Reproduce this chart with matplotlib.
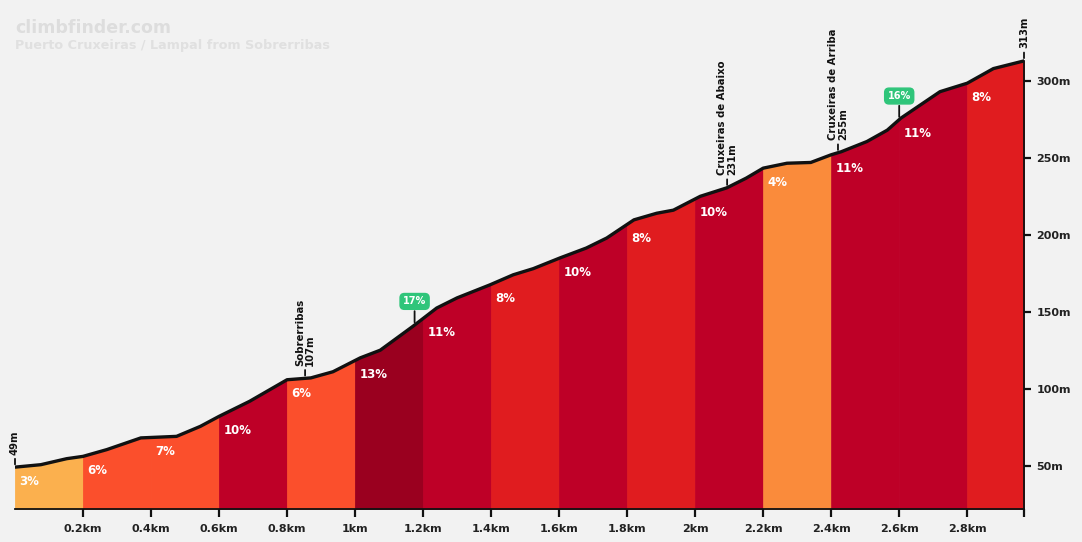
import numpy as np
import matplotlib
matplotlib.use("Agg")
import matplotlib.pyplot as plt

plt.rcParams['font.family'] = ['DejaVu Sans']

# elevation profile (km, m)
dist = [0.0, 0.076, 0.152, 0.2, 0.27, 0.37, 0.475, 0.545, 0.6, 0.69, 0.8, 0.87,
        0.935, 1.015, 1.074, 1.17, 1.24, 1.30, 1.397, 1.465, 1.524, 1.603, 1.68,
        1.74, 1.82, 1.887, 1.936, 2.015, 2.093, 2.15, 2.2, 2.27, 2.34, 2.40, 2.43,
        2.505, 2.565, 2.605, 2.72, 2.8, 2.877, 2.967]
elev = [49, 50.6, 54.5, 56, 60.4, 68, 69, 75.5, 82, 91.8, 105.8, 107,
        111, 120, 125, 140.5, 152.4, 159, 167.5, 174, 178, 185, 191.4,
        197.9, 209.7, 214, 216, 225, 230.5, 236.8, 243.3, 246.5, 247, 252, 254,
        260.6, 268, 275.8, 293, 298.5, 308, 313]

# gradient per 200 m segment
seg_start = [0.0, 0.2, 0.4, 0.6, 0.8, 1.0, 1.2, 1.4, 1.6, 1.8, 2.0, 2.2, 2.4, 2.6, 2.8]
seg_grade = [3, 6, 7, 10, 6, 13, 11, 8, 10, 8, 10, 4, 11, 11, 8]

# places along the climb
place_names = ['Sobrerribas', 'Cruxeiras de Abaixo', 'Cruxeiras de Arriba']
place_km = [0.853, 2.094, 2.42]
place_elev = [107, 231, 255]

# steepest pitches
peak_km = [1.175, 2.6]
peak_grade = [17, 16]

xticks = [0.2, 0.4, 0.6, 0.8, 1.0, 1.2, 1.4, 1.6, 1.8, 2.0, 2.2, 2.4, 2.6, 2.8]
xlabels = ['0.2km', '0.4km', '0.6km', '0.8km', '1km', '1.2km', '1.4km', '1.6km',
           '1.8km', '2km', '2.2km', '2.4km', '2.6km', '2.8km']
yticks = [50, 100, 150, 200, 250, 300]
ylabels = ['50m', '100m', '150m', '200m', '250m', '300m']


def grade_color(g):
    if g <= 3:
        return '#FBB04E'
    if g <= 5:
        return '#FA8B3B'
    if g <= 7:
        return '#FB4F2C'
    if g <= 8:
        return '#E01C1F'
    if g <= 11:
        return '#BE0027'
    return '#9A001F'


dist = np.array(dist)
elev = np.array(elev)
end_km = dist[-1]
ymin = 21.8
W = 'bold'

bg = '#F2F2F2'
fig = plt.figure(figsize=(10.82, 5.42), dpi=100, facecolor=bg)
ax = fig.add_axes([15 / 1082, 33 / 542, 1009 / 1082, 469 / 542])
ax.set_facecolor(bg)
ax.set_xlim(0, end_km)
ax.set_ylim(ymin, ymin + 469 / 1.5388)

ends = seg_start[1:] + [end_km]
for a, b, g in zip(seg_start, ends, seg_grade):
    inner = dist[(dist > a) & (dist < b)]
    xs = np.concatenate([[a], inner, [b]])
    ys = np.interp(xs, dist, elev)
    c = grade_color(g)
    ax.fill_between(xs, ymin, ys, color=c, ec=c, lw=0.6, zorder=1)
    ax.annotate(f'{g}%', (a, np.interp(a, dist, elev)), xytext=(3, -10),
                textcoords='offset points', ha='left', va='center',
                color='white', fontsize=8.5, fontweight=W, zorder=3)

ax.plot(dist, elev, color='#111111', lw=2.4, solid_capstyle='round',
        solid_joinstyle='round', zorder=4)

# start / end elevations
for km, m in [(0.0, elev[0]), (end_km, elev[-1])]:
    ax.annotate('', (km, m), xytext=(0, 8), textcoords='offset points',
                arrowprops=dict(arrowstyle='-', color='#111111', lw=1.3), zorder=5)
    ax.annotate(f'{int(m)}m', (km, m), xytext=(0, 9), textcoords='offset points',
                rotation=90, ha='center', va='bottom', fontsize=7.2,
                fontweight=W, color='#111111', zorder=5)

# named places
for name, km, m in zip(place_names, place_km, place_elev):
    y = np.interp(km, dist, elev)
    ax.annotate('', (km, y), xytext=(0, 8), textcoords='offset points',
                arrowprops=dict(arrowstyle='-', color='#111111', lw=1.3), zorder=5)
    ax.annotate(f'{name}\n{m}m', (km, y), xytext=(0, 9), textcoords='offset points',
                rotation=90, ha='center', va='bottom', fontsize=7.3,
                fontweight=W, color='#111111', linespacing=1.05,
                multialignment='left', zorder=5)

# steepest pitch badges
for km, g in zip(peak_km, peak_grade):
    y = np.interp(km, dist, elev)
    ax.annotate('', (km, y), xytext=(0, 12), textcoords='offset points',
                arrowprops=dict(arrowstyle='-', color='#111111', lw=1.3), zorder=5)
    ax.annotate(f'{g}%', (km, y), xytext=(0, 17), textcoords='offset points',
                ha='center', va='center', fontsize=7, fontweight=W,
                color='white', zorder=6,
                bbox=dict(boxstyle='round,pad=0.3,rounding_size=0.45',
                          fc='#2FC57A', ec='#2FC57A'))

# axes styling
for side in ['top', 'left']:
    ax.spines[side].set_visible(False)
ax.spines['bottom'].set_color('#111111')
ax.spines['bottom'].set_linewidth(1.3)
ax.spines['right'].set_color('#111111')
ax.spines['right'].set_linewidth(1.3)
ax.spines['right'].set_bounds(ymin, elev[-1])
ax.spines['right'].set_zorder(5)

ax.set_xticks(xticks + [end_km])
ax.set_xticklabels(xlabels + [''])
ax.tick_params(axis='x', direction='out', length=6, width=1.6, color='#111111',
               pad=5, labelsize=8, labelcolor='#222222')
ax.yaxis.tick_right()
ax.set_yticks(yticks)
ax.set_yticklabels(ylabels)
ax.tick_params(axis='y', direction='out', length=5, width=1.6, color='#111111',
               pad=4, labelsize=8, labelcolor='#222222')
for lab in ax.get_xticklabels() + ax.get_yticklabels():
    lab.set_fontweight(W)

fig.text(15 / 1082, 1 - 28 / 542, 'climbfinder.com', fontsize=12.5,
         fontweight=W, color='#DDDDDD', va='center', ha='left')
fig.text(15 / 1082, 1 - 46 / 542, 'Puerto Cruxeiras / Lampal from Sobrerribas',
         fontsize=9.2, fontweight=W, color='#E0E0E0', va='center', ha='left')

fig.savefig('out.png', dpi=100, facecolor=bg)
